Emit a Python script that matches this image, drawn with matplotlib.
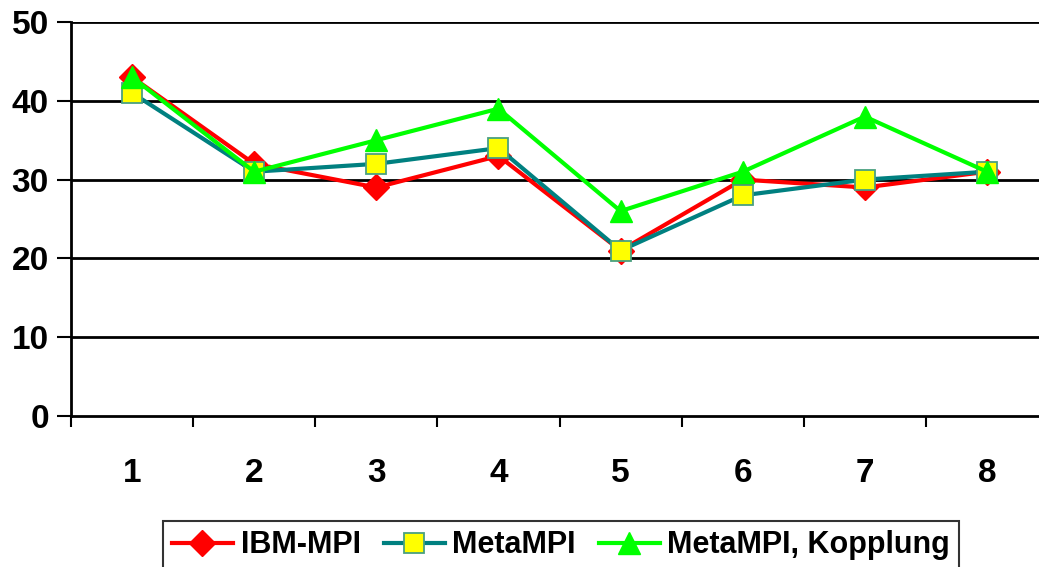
import matplotlib
matplotlib.use("Agg")
import matplotlib.pyplot as plt
import numpy as np

categories = ["1", "2", "3", "4", "5", "6", "7", "8"]
ibm_mpi = [43, 32, 29, 33, 21, 30, 29, 31]
meta_mpi = [41, 31, 32, 34, 21, 28, 30, 31]
meta_kopplung = [43, 31, 35, 39, 26, 31, 38, 31]
series_names = ["IBM-MPI", "MetaMPI", "MetaMPI, Kopplung"]
y_ticks = [0, 10, 20, 30, 40, 50]

plt.rcParams['font.family'] = ['Liberation Sans', 'DejaVu Sans']
plt.rcParams['font.weight'] = 'bold'

fig = plt.figure(figsize=(10.39, 5.67), dpi=100)
ax = fig.add_axes([71/1039, 1 - 416/567, (1048 - 71)/1039, (416 - 22)/567])

x = np.arange(len(categories))
ax.plot(x, ibm_mpi, color='#FF0000', lw=3, marker='D', ms=13, mfc='#FF0000',
        mec='#FF0000', label=series_names[0], zorder=3)
ax.plot(x, meta_mpi, color='#008080', lw=3, marker='s', ms=15, mfc='#FFFF00',
        mec='#4AA080', mew=1.3, label=series_names[1], zorder=4)
ax.plot(x, meta_kopplung, color='#00FF00', lw=3, marker='^', ms=16, mfc='#00FF00',
        mec='#00FF00', label=series_names[2], zorder=5)

ax.set_xlim(-0.5, len(categories) - 0.5)
ax.set_ylim(0, 50)
ax.set_yticks(y_ticks)
ax.set_yticklabels([str(v) for v in y_ticks], fontsize=24, fontweight='bold')
ax.set_xticks(x)
ax.set_xticklabels(categories, fontsize=24, fontweight='bold')
ax.set_xticks(np.arange(-0.5, len(categories), 1.0), minor=True)
ax.tick_params(axis='x', which='major', length=0, pad=30)
ax.tick_params(axis='x', which='minor', length=8, width=1.5, direction='out', color='black')
ax.tick_params(axis='y', length=10, width=1.5, direction='out', pad=6)

for v in y_ticks[1:]:
    ax.axhline(v, color='black', lw=2, zorder=1)

for s in ['top', 'right']:
    ax.spines[s].set_visible(False)
ax.spines['left'].set_linewidth(2)
ax.spines['bottom'].set_linewidth(2)

leg = fig.legend(loc='upper center', bbox_to_anchor=(561/1039, 1 - 506/567), ncol=3,
                 frameon=True, fancybox=False, edgecolor='black',
                 handlelength=2.0, handletextpad=0.25, columnspacing=0.75,
                 borderpad=0.3, prop={'weight': 'bold', 'size': 22})
leg.get_frame().set_linewidth(1.5)

fig.savefig("out.png", dpi=100)
